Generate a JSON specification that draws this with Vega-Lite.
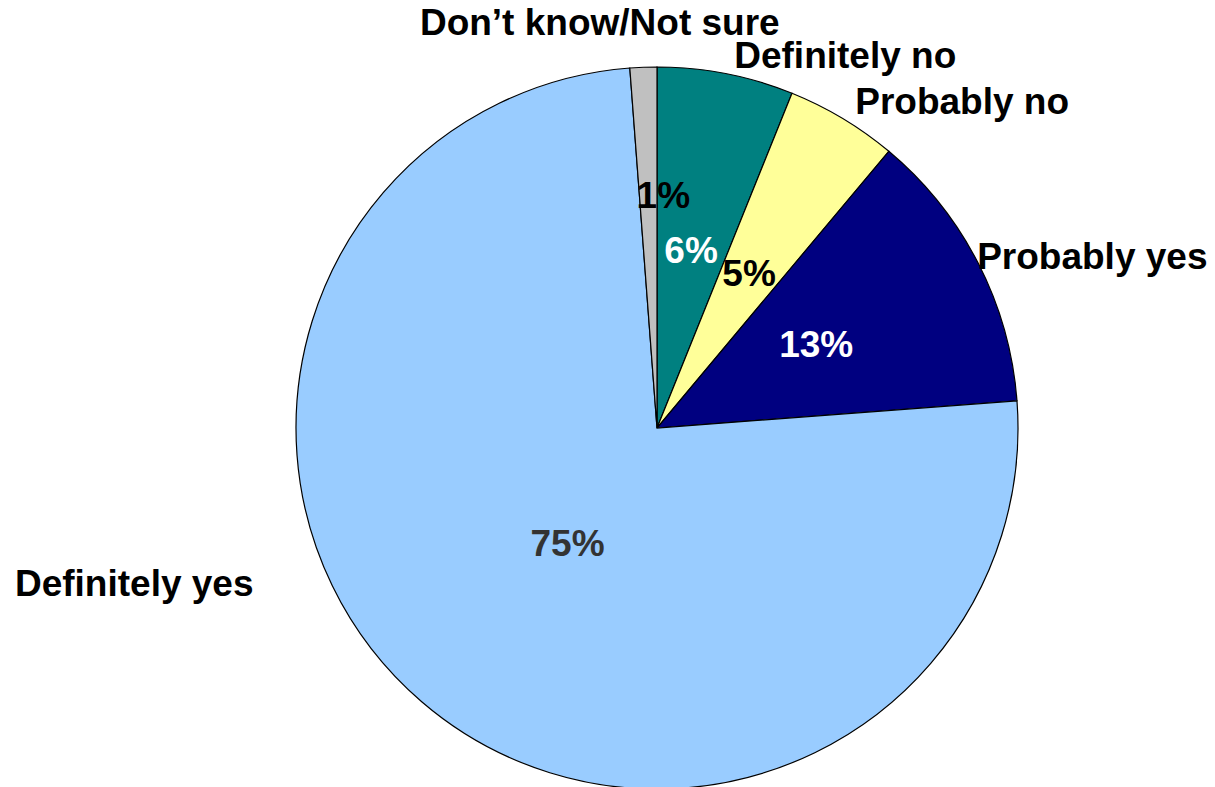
{
  "$schema": "https://vega.github.io/schema/vega-lite/v6.json",
  "width": 1116,
  "height": 718,
  "autosize": {"type": "none"},
  "padding": {"left": 99, "top": 69, "right": 0, "bottom": 0},
  "background": "white",
  "config": {"view": {"stroke": null}},
  "data": {
    "values": [
      {"rank": 1, "category": "Definitely no", "value": 0.061},
      {"rank": 2, "category": "Probably no", "value": 0.050},
      {"rank": 3, "category": "Probably yes", "value": 0.127},
      {"rank": 4, "category": "Definitely yes", "value": 0.750},
      {"rank": 5, "category": "Don’t know/Not sure", "value": 0.012}
    ]
  },
  "encoding": {
    "theta": {"field": "value", "type": "quantitative", "stack": true},
    "order": {"field": "rank", "type": "quantitative"}
  },
  "layer": [
    {
      "mark": {"type": "arc", "outerRadius": 361, "stroke": "black", "strokeWidth": 1.2},
      "encoding": {
        "color": {
          "field": "category",
          "type": "nominal",
          "scale": {
            "domain": ["Definitely no", "Probably no", "Probably yes", "Definitely yes", "Don’t know/Not sure"],
            "range": ["#008080", "#FFFF99", "#000080", "#99CCFF", "#C0C0C0"]
          },
          "legend": null
        }
      }
    },
    {
      "mark": {"type": "text", "radius": 404, "align": "center", "baseline": "middle", "font": "Liberation Sans", "fontWeight": "bold", "fontSize": 37, "dx": -42, "dy": 0, "color": "black"},
      "encoding": {"text": {"condition": {"test": "datum.rank === 5", "field": "category"}, "value": ""}}
    },
    {
      "mark": {"type": "text", "radius": 395, "align": "left", "baseline": "middle", "font": "Liberation Sans", "fontWeight": "bold", "fontSize": 37, "dx": 2, "dy": 17, "color": "black"},
      "encoding": {"text": {"condition": {"test": "datum.rank === 1", "field": "category"}, "value": ""}}
    },
    {
      "mark": {"type": "text", "radius": 395, "align": "left", "baseline": "middle", "font": "Liberation Sans", "fontWeight": "bold", "fontSize": 37, "dx": -5, "dy": 14, "color": "black"},
      "encoding": {"text": {"condition": {"test": "datum.rank === 2", "field": "category"}, "value": ""}}
    },
    {
      "mark": {"type": "text", "radius": 370, "align": "left", "baseline": "middle", "font": "Liberation Sans", "fontWeight": "bold", "fontSize": 37, "dx": -9, "dy": -1, "color": "black"},
      "encoding": {"text": {"condition": {"test": "datum.rank === 3", "field": "category"}, "value": ""}}
    },
    {
      "mark": {"type": "text", "radius": 395, "align": "right", "baseline": "middle", "font": "Liberation Sans", "fontWeight": "bold", "fontSize": 37, "dx": -146, "dy": -143, "color": "black"},
      "encoding": {"text": {"condition": {"test": "datum.rank === 4", "field": "category"}, "value": ""}}
    },
    {
      "mark": {"type": "text", "radius": 179, "align": "center", "baseline": "middle", "font": "Liberation Sans", "fontWeight": "bold", "fontSize": 37},
      "encoding": {
        "text": {"condition": {"test": "datum.rank <= 3", "field": "value", "format": ".0%"}, "value": ""},
        "color": {"condition": {"test": "datum.rank === 2", "value": "black"}, "value": "white"}
      }
    },
    {
      "mark": {"type": "text", "radius": 231, "align": "center", "baseline": "middle", "font": "Liberation Sans", "fontWeight": "bold", "fontSize": 37, "dx": 15, "color": "black"},
      "encoding": {"text": {"condition": {"test": "datum.rank === 5", "field": "value", "format": ".0%"}, "value": ""}}
    },
    {
      "mark": {"type": "text", "radius": 148, "align": "center", "baseline": "middle", "font": "Liberation Sans", "fontWeight": "bold", "fontSize": 37, "dx": 7, "dy": 5, "color": "#333333"},
      "encoding": {"text": {"condition": {"test": "datum.rank === 4", "field": "value", "format": ".0%"}, "value": ""}}
    }
  ]
}
